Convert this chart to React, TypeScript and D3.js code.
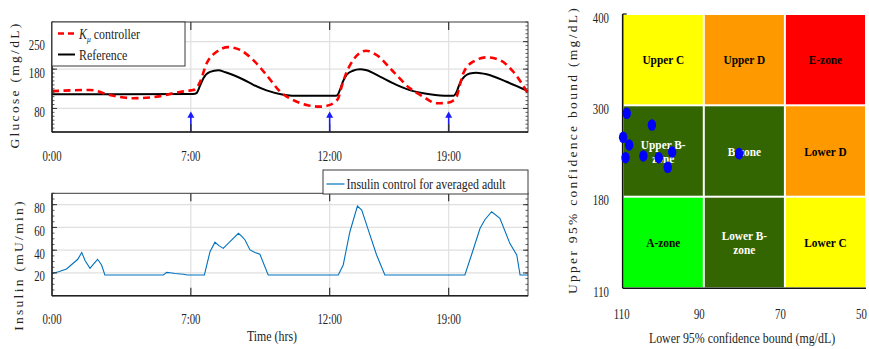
import React, { useEffect, useRef } from 'react';
import * as d3 from 'd3';

// time in minutes; tick marks sit at 0/7/14/20 h in the source figure
const timeTicks = [0, 420, 840, 1200];
const timeLabels = ['0:00', '7:00', '12:00', '19:00'];
const mealTimes = [420, 840, 1200];

const glucoseTicks = [80, 180, 250];
const insulinTicks = [20, 40, 60, 80];

const referenceGlucose: [number, number][] = [
    [0, 116], [200, 116], [420, 117], [432, 117.5], [437, 119], [448, 138], [458, 157], [478, 173],
    [503, 177], [525, 172], [548, 165], [580, 153], [609, 140], [649, 126], [700, 115], [750, 112],
    [800, 112], [855, 112], [862, 113], [871, 127], [880, 148], [891, 165], [910, 176], [932, 180],
    [952, 177], [992, 161], [1042, 140], [1093, 124], [1143, 116], [1200, 112], [1214, 112],
    [1224, 122], [1232, 140], [1239, 152], [1264, 169], [1284, 171], [1315, 167], [1375, 148], [1440, 124]
];

const kmuGlucose: [number, number][] = [
    [0, 124], [60, 126], [115, 127], [175, 114], [246, 106], [317, 110], [387, 122], [420, 126],
    [432, 128], [448, 148], [468, 195], [498, 224], [533, 236], [569, 229], [609, 203], [649, 165],
    [690, 123], [730, 101], [770, 89], [811, 84.5], [841, 89], [856, 97], [866, 106], [876, 135],
    [886, 161], [911, 203], [950, 227], [982, 216], [1032, 174], [1083, 131], [1123, 110], [1163, 93],
    [1200, 95], [1212, 99], [1224, 110], [1234, 140], [1244, 169], [1274, 199], [1315, 210],
    [1355, 203], [1395, 174], [1440, 118]
];

const insulin: [number, number][] = [
    [0, 19.5], [20, 21], [44, 23.5], [64, 28.5], [78, 32], [90, 38], [100, 31], [115, 24], [126, 28],
    [138, 32], [150, 27], [160, 18.2], [337, 18.2], [347, 20.5], [357, 20.2], [372, 19.5], [397, 18.8],
    [410, 18.2], [461, 18.2], [478, 38.7], [493, 47], [505, 44], [518, 41.6], [540, 48], [564, 54.8],
    [575, 52], [584, 49], [599, 40.2], [614, 38], [629, 36.4], [654, 18.2], [866, 18.2], [881, 27],
    [901, 56], [924, 78.8], [937, 75.3], [957, 57.7], [982, 35.8], [1007, 18.2], [1249, 18.2],
    [1269, 35.8], [1295, 59.2], [1310, 67], [1330, 73.8], [1355, 68], [1385, 46], [1406, 35.8],
    [1416, 18.2], [1440, 18.2]
];

// confidence-bound zone grid
const lowerBounds = [110, 90, 70, 50];
const upperBounds = [110, 180, 300, 400];
const zoneNames = [
    ['Upper C', 'Upper D', 'E-zone'],
    ['Upper B-zone', 'B-zone', 'Lower D'],
    ['A-zone', 'Lower B-zone', 'Lower C']
];
const zoneLines: Record<string, string[]> = {
    'Upper B-zone': ['Upper B-', 'zone'],
    'Lower B-zone': ['Lower B-', 'zone']
};
const zoneColor: Record<string, string> = {
    'Upper C': '#ffff00', 'Upper D': '#ff9900', 'E-zone': '#ff0000',
    'Upper B-zone': '#336600', 'B-zone': '#336600', 'Lower D': '#ff9900',
    'A-zone': '#00ff00', 'Lower B-zone': '#336600', 'Lower C': '#ffff00'
};
const dotLower = [109.0, 102.8, 109.9, 108.4, 109.3, 104.9, 101.1, 97.8, 98.9, 81.3];
const dotUpper = [289.5, 274.1, 258, 247.9, 231.2, 233.5, 231.2, 238.7, 218.6, 236.5];

const serif = '"Liberation Serif", "Times New Roman", serif';

export default function App() {
    const svgRef = useRef<SVGSVGElement>(null);

    useEffect(() => {
        const svg = d3.select(svgRef.current);
        svg.selectAll('*').remove();

        // squeezed text, the source figure is narrower than its fonts
        const label = (parent: any, x: number, y: number, txt: string, size: number, sx = 0.85, anchor = 'middle') =>
            parent.append('g')
                .attr('transform', `translate(${x},${y}) scale(${sx},1)`)
                .append('text')
                .attr('text-anchor', anchor)
                .attr('font-family', serif)
                .attr('font-size', size)
                .attr('fill', '#222')
                .text(txt);

        const L = 52, R = 528;
        const x = d3.scaleLinear().domain([0, 1440]).range([L, R]);
        const yG = d3.scaleLinear().domain([20, 300]).range([132, 22]);
        const yI = d3.scaleLinear().domain([0, 90]).range([295.7, 193.3]);

        function panel(y: d3.ScaleLinear<number, number>, ticks: number[]) {
            const [yb, yt] = y.range();
            const g = svg.append('g');
            g.append('g').selectAll('line').data(ticks).join('line')
                .attr('x1', L).attr('x2', R).attr('y1', d => y(d)).attr('y2', d => y(d))
                .attr('stroke', '#e0e0e0').attr('stroke-width', 1.2);
            g.append('g').selectAll('line').data(timeTicks.slice(1)).join('line')
                .attr('x1', d => x(d)).attr('x2', d => x(d)).attr('y1', yt).attr('y2', yb)
                .attr('stroke', '#e0e0e0').attr('stroke-width', 1.2);
            return g;
        }

        function frame(y: d3.ScaleLinear<number, number>, ticks: number[], minorStep: number) {
            const [yb, yt] = y.range();
            const g = svg.append('g');
            const minor = d3.range(y.domain()[0], y.domain()[1] + 0.01, minorStep);
            [L, R].forEach(xx => {
                const dir = xx === L ? 1 : -1;
                g.append('g').selectAll('line').data(minor).join('line')
                    .attr('x1', xx).attr('x2', xx + dir * 2.5)
                    .attr('y1', d => y(d)).attr('y2', d => y(d))
                    .attr('stroke', '#333').attr('stroke-width', 0.8);
                g.append('g').selectAll('line').data(ticks).join('line')
                    .attr('x1', xx).attr('x2', xx + dir * 5)
                    .attr('y1', d => y(d)).attr('y2', d => y(d))
                    .attr('stroke', '#333').attr('stroke-width', 1);
            });
            [yt, yb].forEach(yy => {
                const dir = yy === yt ? 1 : -1;
                g.append('g').selectAll('line').data(timeTicks.slice(1)).join('line')
                    .attr('x1', d => x(d)).attr('x2', d => x(d))
                    .attr('y1', yy).attr('y2', yy + dir * 8)
                    .attr('stroke', '#333').attr('stroke-width', 1.2);
            });
            g.append('rect')
                .attr('x', L).attr('y', yt).attr('width', R - L).attr('height', yb - yt)
                .attr('fill', 'none').attr('stroke', '#3a3a3a').attr('stroke-width', 1);
            g.append('line').attr('x1', L).attr('x2', R).attr('y1', yb).attr('y2', yb)
                .attr('stroke', '#222').attr('stroke-width', 1.4);
            g.append('line').attr('x1', L).attr('x2', L).attr('y1', yt).attr('y2', yb)
                .attr('stroke', '#222').attr('stroke-width', 1.4);
            ticks.forEach(t => label(g, 45, y(t) + 8.5, String(t), 14, 0.77, 'end'));
            timeTicks.forEach((t, i) => label(g, x(t), yb + 28.5, timeLabels[i], 14, 0.77));
        }

        // ---- glucose panel
        panel(yG, glucoseTicks);
        const gLine = d3.line<[number, number]>().x(d => x(d[0])).y(d => yG(d[1])).curve(d3.curveMonotoneX);
        svg.append('path').attr('d', gLine(referenceGlucose))
            .attr('fill', 'none').attr('stroke', '#000').attr('stroke-width', 2);
        svg.append('path').attr('d', gLine(kmuGlucose))
            .attr('fill', 'none').attr('stroke', '#ff0000').attr('stroke-width', 2.6)
            .attr('stroke-dasharray', '7,4.5');

        // meal arrows
        const arrows = svg.append('g').selectAll('g').data(mealTimes).join('g')
            .attr('transform', d => `translate(${x(d)},0)`);
        arrows.append('line').attr('x1', 0).attr('x2', 0).attr('y1', yG(20)).attr('y2', yG(66))
            .attr('stroke', '#1a1aff').attr('stroke-width', 1.6);
        arrows.append('path')
            .attr('d', `M0,${yG(72)} L-3.5,${yG(56)} L3.5,${yG(56)} Z`)
            .attr('fill', '#1a1aff');
        frame(yG, glucoseTicks, 10);

        // glucose legend
        const lg = svg.append('g');
        lg.append('rect').attr('x', L).attr('y', 22).attr('width', 133).attr('height', 44)
            .attr('fill', '#fff').attr('stroke', '#3a3a3a').attr('stroke-width', 1);
        lg.append('line').attr('x1', 58).attr('x2', 75).attr('y1', 33.5).attr('y2', 33.5)
            .attr('stroke', '#ff0000').attr('stroke-width', 2.6).attr('stroke-dasharray', '6,4');
        lg.append('line').attr('x1', 58).attr('x2', 75).attr('y1', 54.5).attr('y2', 54.5)
            .attr('stroke', '#000').attr('stroke-width', 2);
        const kt = label(lg, 79, 39, '', 14, 0.85, 'start');
        kt.append('tspan').attr('font-style', 'italic').text('K');
        kt.append('tspan').attr('font-size', 9).attr('font-style', 'italic').attr('dy', 3).text('μ');
        kt.append('tspan').attr('dy', -3).text(' controller');
        label(lg, 79, 60, 'Reference', 14, 0.85, 'start');

        // ---- insulin panel
        panel(yI, insulinTicks);
        const iLine = d3.line<[number, number]>().x(d => x(d[0])).y(d => yI(d[1]));
        svg.append('path').attr('d', iLine(insulin))
            .attr('fill', 'none').attr('stroke', '#0072bd').attr('stroke-width', 1.1);
        frame(yI, insulinTicks, 5);

        const il = svg.append('g');
        il.append('rect').attr('x', 323).attr('y', 170).attr('width', 205).attr('height', 24)
            .attr('fill', '#fff').attr('stroke', '#3a3a3a').attr('stroke-width', 1);
        il.append('line').attr('x1', 326.5).attr('x2', 344.5).attr('y1', 184).attr('y2', 184)
            .attr('stroke', '#0072bd').attr('stroke-width', 1.2);
        label(il, 346.5, 188.5, 'Insulin control for averaged adult', 14, 0.85, 'start');

        // axis titles (left)
        const rot = (cx: number, cy: number, txt: string) =>
            svg.append('text')
                .attr('transform', `translate(${cx},${cy}) rotate(-90)`)
                .attr('text-anchor', 'middle')
                .attr('font-family', serif).attr('font-size', 13.5)
                .attr('letter-spacing', 2.3).attr('fill', '#222')
                .text(txt);
        rot(19, 85, 'Glucose (mg/dL)');
        rot(23, 265, 'Insulin (mU/min)');
        label(svg, 272, 341, 'Time (hrs)', 14);

        // ---- zone grid
        const xZ = d3.scaleLinear().domain([110, 50]).range([622.7, 866]);
        const yZ = d3.scaleLinear().domain(upperBounds).range([288.3, 196.7, 105.3, 14]);
        const zg = svg.append('g');
        zoneNames.forEach((row, r) => {
            const hi = upperBounds[upperBounds.length - 1 - r];
            const lo = upperBounds[upperBounds.length - 2 - r];
            row.forEach((name, c) => {
                const x0 = xZ(lowerBounds[c]), x1 = xZ(lowerBounds[c + 1]);
                const y0 = yZ(hi), y1 = yZ(lo);
                zg.append('rect')
                    .attr('x', x0 + 1).attr('y', y0 + 1)
                    .attr('width', x1 - x0 - 2).attr('height', y1 - y0 - 2)
                    .attr('fill', zoneColor[name]);
                const lines = zoneLines[name] || [name];
                const dark = zoneColor[name] === '#336600';
                lines.forEach((ln, k) => {
                    const cy = (y0 + y1) / 2 + (k - (lines.length - 1) / 2) * 14 + 4.5;
                    label(zg, (x0 + x1) / 2, cy, ln, 13.5, 0.84)
                        .attr('font-weight', 'bold')
                        .attr('fill', dark ? '#fff' : '#000');
                });
            });
        });
        zg.append('line').attr('x1', xZ(110)).attr('x2', xZ(110)).attr('y1', yZ(400)).attr('y2', yZ(110))
            .attr('stroke', '#111').attr('stroke-width', 1.6);
        zg.append('line').attr('x1', xZ(110)).attr('x2', xZ(50)).attr('y1', yZ(110)).attr('y2', yZ(110))
            .attr('stroke', '#111').attr('stroke-width', 1.6);
        zg.append('line').attr('x1', xZ(110)).attr('x2', xZ(110) + 4).attr('y1', yZ(400)).attr('y2', yZ(400))
            .attr('stroke', '#111').attr('stroke-width', 1.2);

        zg.selectAll('ellipse').data(dotLower).join('ellipse')
            .attr('cx', d => xZ(d)).attr('cy', (d, i) => yZ(dotUpper[i]))
            .attr('rx', 4.2).attr('ry', 5.8).attr('fill', '#0000ff');

        upperBounds.forEach(v => label(svg, 609, yZ(v) + 8.5, String(v), 14, 0.77, 'end'));
        lowerBounds.forEach((v, i) => label(svg, xZ(v) - (i === 0 ? 1 : 4.5), 319, String(v), 14, 0.77));
        rot(577, 150, 'Upper 95% confidence bound (mg/dL)');
        label(svg, 742, 343, 'Lower 95% confidence bound (mg/dL)', 14);
    }, []);

    return (
        <svg ref={svgRef} width={869} height={349}
            style={{ position: 'absolute', left: 0, top: 0, background: '#fff' }} />
    );
}
